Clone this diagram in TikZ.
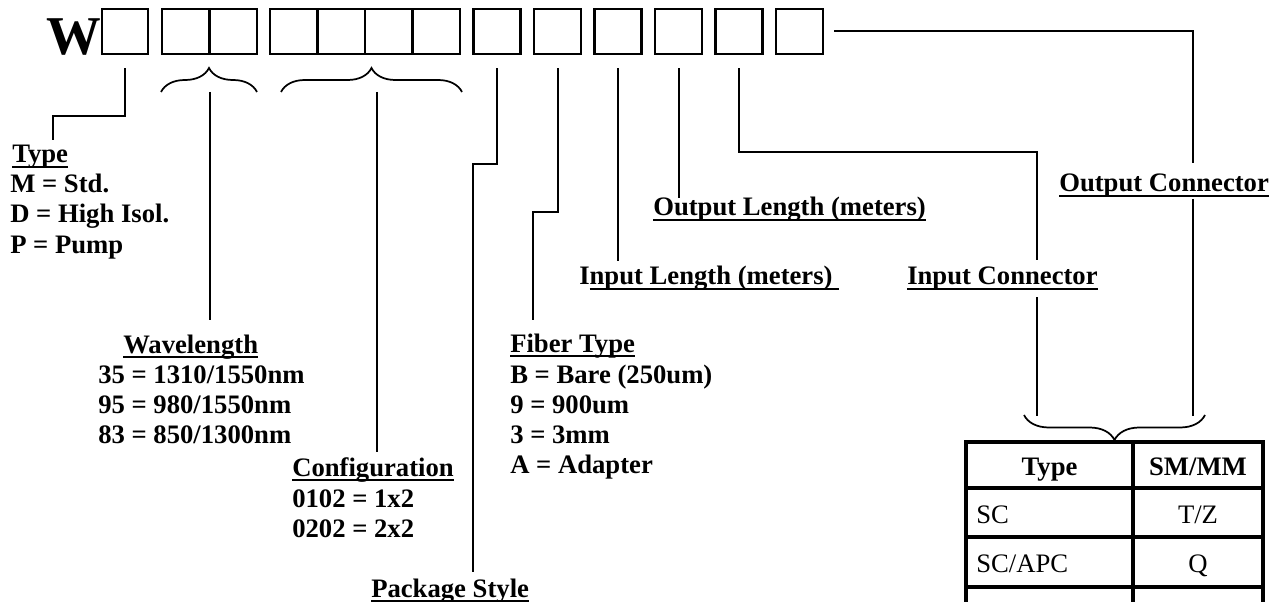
\documentclass[tikz,border=0pt]{standalone}
\usepackage{fontspec}
\setmainfont{Liberation Serif}
\usetikzlibrary{decorations.pathreplacing}
\newsavebox\ulbox
\newcommand\ulin[1]{\sbox\ulbox{#1}\rlap{\rule[-3.75pt]{\wd\ulbox}{1.5pt}}\usebox\ulbox}
\begin{document}
\begin{tikzpicture}[x=0.75pt,y=-0.75pt,
  lab/.style={font=\bfseries\fontsize{20}{23}\selectfont, inner sep=0pt, anchor=base west},
  big/.style={font=\bfseries\fontsize{41}{41}\selectfont, inner sep=0pt, anchor=base west},
  cell/.style={draw, line width=2pt, minimum height=33.75pt, inner sep=0pt},
  conn/.style={line width=1.5pt},
  brc/.style={line width=1.3pt, decorate, decoration={brace, amplitude=18pt}},
  tbl/.style={line width=2.5pt},
  thd/.style={font=\bfseries\fontsize{20}{23}\selectfont, inner sep=0pt, anchor=base},
  tcl/.style={font=\fontsize{20}{23}\selectfont, inner sep=0pt, anchor=base west},
  tcc/.style={font=\fontsize{20}{23}\selectfont, inner sep=0pt, anchor=base}]
\useasboundingbox (0,0) rectangle (1281,602);
\clip (0,0) rectangle (1281,602);
\fill[white] (0,0) rectangle (1281,602);

% code letter and boxes
\node[big] (W) at (46,55) {W};
\node[cell, minimum width=34.5pt] (c1) at (125,31.5) {};
\node[cell, minimum width=35.6pt] (c2a) at (185.75,31.5) {};
\node[cell, minimum width=35.6pt] (c2b) at (233.25,31.5) {};
\node[cell, minimum width=35.6pt] (c3a) at (293.75,31.5) {};
\node[cell, minimum width=35.6pt] (c3b) at (341.25,31.5) {};
\node[cell, minimum width=35.6pt] (c3c) at (388.75,31.5) {};
\node[cell, minimum width=35.6pt] (c3d) at (436.25,31.5) {};
\node[cell, minimum width=35.25pt] (s1) at (497,31.5) {};
\node[cell, minimum width=35.25pt] (s2) at (557.5,31.5) {};
\node[cell, minimum width=35.25pt] (s3) at (618,31.5) {};
\node[cell, minimum width=35.25pt] (s4) at (678.5,31.5) {};
\node[cell, minimum width=35.25pt] (s5) at (739,31.5) {};
\node[cell, minimum width=35.25pt] (s6) at (799.5,31.5) {};

% braces
\coordinate (b2l) at (161,92);
\coordinate (b2r) at (257,92);
\coordinate (b3l) at (281,92);
\coordinate (b3r) at (462,92);
\draw[brc] (b2l) -- (b2r);
\draw[brc] (b3l) -- (b3r);

% labels
\node[lab] (typeH) at (12,163) {\ulin{Type}};
\node[lab] (type1) at (10,193) {M = Std.};
\node[lab] (type2) at (10,223) {D = High Isol.};
\node[lab] (type3) at (10,254) {P = Pump};

\node[lab] (wlH) at (123,353) {\ulin{Wavelength}};
\node[lab] (wl1) at (98,383) {35 = 1310/1550nm};
\node[lab] (wl2) at (98,413) {95 = 980/1550nm};
\node[lab] (wl3) at (98,443) {83 = 850/1300nm};

\node[lab] (cfH) at (292,476) {\ulin{Configuration}};
\node[lab] (cf1) at (292,507) {0102 = 1x2};
\node[lab] (cf2) at (292,537) {0202 = 2x2};

\node[lab] (pkH) at (371,597) {\ulin{Package Style}};

\node[lab] (fbH) at (510,352) {\ulin{Fiber Type}};
\node[lab] (fb1) at (510,383) {B = Bare (250um)};
\node[lab] (fb2) at (510,413) {9 = 900um};
\node[lab] (fb3) at (510,443) {3 = 3mm};
\node[lab] (fb4) at (510,473) {A = Adapter};

\node[lab] (inL) at (579,285) {I\ulin{nput Length (meters)\ }};
\node[lab] (outL) at (653,216) {\ulin{Output Length (meters)}};
\node[lab] (inC) at (907,285) {\ulin{Input Connector}};
\node[lab] (outC) at (1059,192) {\ulin{Output Connector}};

% connectors
\coordinate (tyE) at (53,140);
\draw[conn] (c1.south) ++(0,13) -- ++(0,48) -| (tyE);
\coordinate (wlS) at (209.5,92);
\coordinate (wlE) at (209.5,320);
\draw[conn] (wlS) -- (wlE);
\coordinate (cfS) at (377,92);
\coordinate (cfE) at (377,452);
\draw[conn] (cfS) -- (cfE);
\coordinate (pkE) at (473,572);
\draw[conn] (s1.south) ++(0,13) |- (473,164) -- (pkE);
\coordinate (fbE) at (533,320);
\draw[conn] (s2.south) ++(0,13) |- (533,212) -- (fbE);
\draw[conn] (s3.south) ++(0,13) -- ++(0,193);
\draw[conn] (s4.south) ++(0,13) -- ++(0,130);
\coordinate (inCa) at (1037,260);
\coordinate (inCb) at (1037,297);
\coordinate (inCc) at (1037,416);
\draw[conn] (s5.south) ++(0,13) |- (1037,152) -- (inCa);
\draw[conn] (inCb) -- (inCc);
\coordinate (outCa) at (1193,163);
\coordinate (outCb) at (1193,199);
\coordinate (outCc) at (1193,416);
\draw[conn] (s6.east) ++(10,0) -- (1193,31.5) -- (outCa);
\draw[conn] (outCb) -- (outCc);

% bottom brace
\coordinate (bbr) at (1205,415);
\coordinate (bbl) at (1024,415);
\draw[brc, decoration={brace, amplitude=18.75pt}] (bbr) -- (bbl);

% table
\draw[tbl] (966,650) -- (966,442) -- (1263,442) -- (1263,650);
\draw[tbl] (1133,442) -- (1133,650);
\draw[tbl] (966,488) -- (1263,488);
\draw[tbl] (966,537) -- (1263,537);
\draw[tbl] (966,587) -- (1263,587);
\node[thd] (th1) at (1049.5,475) {Type};
\node[thd] (th2) at (1198,475) {SM/MM};
\node[tcl] (r1a) at (976,523) {SC};
\node[tcc] (r1b) at (1198,523) {T/Z};
\node[tcl] (r2a) at (976,572) {SC/APC};
\node[tcc] (r2b) at (1198,572) {Q};
\end{tikzpicture}
\end{document}
